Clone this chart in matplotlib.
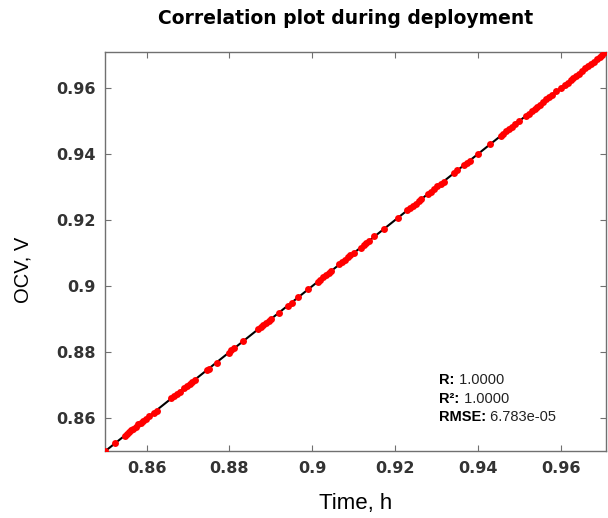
import matplotlib
matplotlib.use('Agg')
import matplotlib.pyplot as plt

time_h = [0.8500, 0.8523, 0.8547, 0.8552, 0.8558, 0.8563, 0.8568, 0.8574, 0.8580, 0.8586,
          0.8592, 0.8598, 0.8605, 0.8617, 0.8624, 0.8660, 0.8666, 0.8673, 0.8680, 0.8690,
          0.8697, 0.8704, 0.8710, 0.8716, 0.8745, 0.8750, 0.8769, 0.8798, 0.8805, 0.8812,
          0.8834, 0.8870, 0.8876, 0.8882, 0.8889, 0.8895, 0.8900, 0.8920, 0.8942, 0.8950,
          0.8966, 0.8990, 0.9014, 0.9020, 0.9027, 0.9033, 0.9040, 0.9046, 0.9065, 0.9072,
          0.9080, 0.9087, 0.9092, 0.9100, 0.9118, 0.9124, 0.9131, 0.9137, 0.9150, 0.9174,
          0.9207, 0.9230, 0.9237, 0.9244, 0.9251, 0.9257, 0.9263, 0.9280, 0.9287, 0.9294,
          0.9301, 0.9310, 0.9318, 0.9342, 0.9350, 0.9366, 0.9373, 0.9380, 0.9400, 0.9430,
          0.9455, 0.9462, 0.9469, 0.9476, 0.9483, 0.9490, 0.9500, 0.9516, 0.9523, 0.9530,
          0.9537, 0.9544, 0.9551, 0.9558, 0.9565, 0.9572, 0.9580, 0.9590, 0.9600, 0.9610,
          0.9617, 0.9624, 0.9631, 0.9638, 0.9645, 0.9652, 0.9659, 0.9666, 0.9673, 0.9680,
          0.9687, 0.9694, 0.9701, 0.9708, 0.9713]
ocv_v = [0.8500, 0.8524, 0.8546, 0.8552, 0.8559, 0.8563, 0.8567, 0.8574, 0.8581, 0.8586,
         0.8591, 0.8598, 0.8606, 0.8617, 0.8623, 0.8660, 0.8667, 0.8673, 0.8679, 0.8690,
         0.8698, 0.8704, 0.8709, 0.8716, 0.8746, 0.8750, 0.8768, 0.8798, 0.8806, 0.8812,
         0.8833, 0.8870, 0.8877, 0.8882, 0.8888, 0.8895, 0.8901, 0.8920, 0.8941, 0.8950,
         0.8967, 0.8990, 0.9013, 0.9020, 0.9028, 0.9033, 0.9039, 0.9046, 0.9066, 0.9072,
         0.9079, 0.9087, 0.9093, 0.9100, 0.9117, 0.9124, 0.9132, 0.9137, 0.9151, 0.9174,
         0.9206, 0.9230, 0.9238, 0.9244, 0.9250, 0.9257, 0.9264, 0.9280, 0.9286, 0.9294,
         0.9302, 0.9310, 0.9317, 0.9342, 0.9351, 0.9366, 0.9372, 0.9380, 0.9401, 0.9430,
         0.9454, 0.9462, 0.9470, 0.9476, 0.9482, 0.9490, 0.9501, 0.9516, 0.9522, 0.9530,
         0.9538, 0.9544, 0.9550, 0.9558, 0.9566, 0.9572, 0.9579, 0.9590, 0.9601, 0.9610,
         0.9616, 0.9624, 0.9632, 0.9638, 0.9644, 0.9652, 0.9660, 0.9666, 0.9672, 0.9680,
         0.9688, 0.9694, 0.9700, 0.9708, 0.9713]
fit_line = [0.85, 0.9713]
ticks = [0.86, 0.88, 0.9, 0.92, 0.94, 0.96]
tick_labels = ['0.86', '0.88', '0.9', '0.92', '0.94', '0.96']
stats_names = ['R:', 'R\u00b2:', 'RMSE:']
stats_values = ['1.0000', '1.0000', '6.783e-05']

fig = plt.figure(figsize=(6.08, 5.18), dpi=100)
ax = fig.add_axes([0.173, 0.129, 0.824, 0.771])

ax.plot(time_h, ocv_v, 'o', color='red', markersize=5, markeredgewidth=0, zorder=3)
ax.plot(fit_line, fit_line, '-', color='black', linewidth=1.5, zorder=2)

ax.set_xlim(0.85, 0.971)
ax.set_ylim(0.85, 0.971)
ax.set_xticks(ticks)
ax.set_yticks(ticks)
ax.set_xticklabels(tick_labels, fontsize=11.5, fontweight='bold', color='#333333', family='DejaVu Sans')
ax.set_yticklabels(tick_labels, fontsize=11.5, fontweight='bold', color='#333333', family='DejaVu Sans')
ax.tick_params(direction='in', length=4, width=0.8, color='#707070',
               top=True, right=True, pad=7)
for sp in ax.spines.values():
    sp.set_color('#707070')
    sp.set_linewidth(1.0)

ax.set_xlabel('Time, h', fontsize=16, family='Liberation Sans', labelpad=12)
ax.set_ylabel('OCV, V', fontsize=14.5, family='Liberation Sans', labelpad=13)
ax.yaxis.set_label_coords(-0.145, 0.454)
ax.set_title('Correlation plot during deployment', fontsize=13.5, fontweight='bold',
             family='DejaVu Sans', pad=20, x=0.479)

ypos = [0.178, 0.130, 0.085]
for name, val, yy in zip(stats_names, stats_values, ypos):
    t = ax.text(0.667, yy, name, transform=ax.transAxes, fontsize=10.5,
                fontweight='bold', family='Liberation Sans', va='center')
    ax.annotate(' ' + val, xy=(1, 0.5), xycoords=t, va='center', fontsize=10.5,
                family='Liberation Sans', color='#222222')

fig.savefig('out.png', dpi=100)
